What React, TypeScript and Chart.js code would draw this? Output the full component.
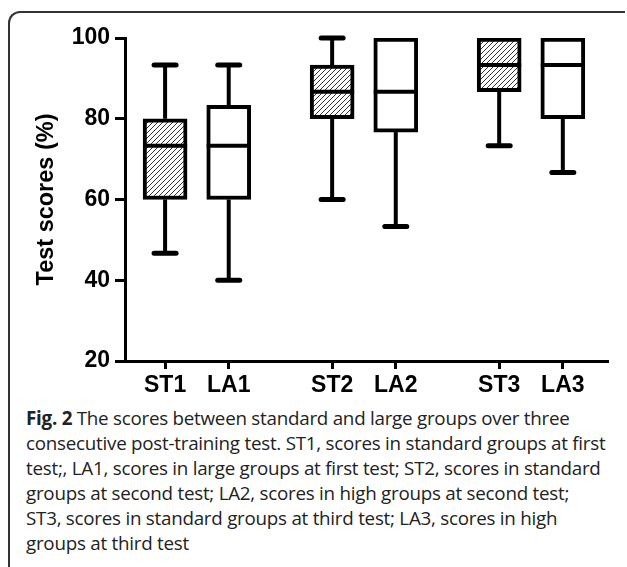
import React, { useEffect, useRef } from 'react';
import { Chart, registerables } from 'chart.js';

Chart.register(...registerables);

// ---- data ----
const categories = ['ST1', 'LA1', 'ST2', 'LA2', 'ST3', 'LA3'];
const whiskerLow = [46.7, 40, 60, 53.3, 73.3, 66.7];
const quartile1 = [60, 60, 80, 76.7, 86.7, 80];
const medians = [73.3, 73.3, 86.7, 86.7, 93.3, 93.3];
const quartile3 = [80, 83.3, 93.3, 100, 100, 100];
const whiskerHigh = [93.3, 93.3, 100, 100, 100, 100];
const yTickValues = [20, 40, 60, 80, 100];
const yTitle = 'Test scores (%)';
const captionBold = 'Fig. 2';
const captionLines = [
  ' The scores between standard and large groups over three',
  'consecutive post-training test. ST1, scores in standard groups at first',
  'test;, LA1, scores in large groups at first test; ST2, scores in standard',
  'groups at second test; LA2, scores in high groups at second test;',
  'ST3, scores in standard groups at third test; LA3, scores in high',
  'groups at third test',
];

// ---- layout constants ----
const GROUP_STEP = 2.625;
const xPos = (i: number) => 1 + Math.floor(i / 2) * GROUP_STEP + (i % 2);
const FONT = "'Liberation Sans', Arial, sans-serif";

function makeHatch(ctx: CanvasRenderingContext2D) {
  const s = 5;
  const c = document.createElement('canvas');
  c.width = s;
  c.height = s;
  const g = c.getContext('2d')!;
  g.fillStyle = '#fff';
  g.fillRect(0, 0, s, s);
  g.strokeStyle = '#333';
  g.lineWidth = 1;
  g.beginPath();
  g.moveTo(0, s);
  g.lineTo(s, 0);
  g.moveTo(-1, 1);
  g.lineTo(1, -1);
  g.moveTo(s - 1, s + 1);
  g.lineTo(s + 1, s - 1);
  g.stroke();
  return ctx.createPattern(c, 'repeat')!;
}

const boxPlotPlugin = {
  id: 'boxPlotParts',
  afterDatasetsDraw(chart: any) {
    const ctx = chart.ctx as CanvasRenderingContext2D;
    const y = chart.scales.y;
    chart.data.datasets.forEach((ds: any, d: number) => {
      const meta = chart.getDatasetMeta(d);
      meta.data.forEach((bar: any, j: number) => {
        const k = ds.data[j].k;
        const { x, width } = bar.getProps(['x', 'width'], true);
        const half = width / 2;
        ctx.save();
        ctx.strokeStyle = '#000';
        ctx.lineWidth = 4;
        ctx.lineCap = 'butt';
        const ym = y.getPixelForValue(medians[k]);
        ctx.beginPath();
        ctx.moveTo(x - half, ym);
        ctx.lineTo(x + half, ym);
        ctx.stroke();
        const yq3 = y.getPixelForValue(quartile3[k]);
        const yq1 = y.getPixelForValue(quartile1[k]);
        const yHi = y.getPixelForValue(whiskerHigh[k]);
        const yLo = y.getPixelForValue(whiskerLow[k]);
        const capHalf = 11;
        if (whiskerHigh[k] > quartile3[k]) {
          ctx.lineWidth = 4;
          ctx.lineCap = 'butt';
          ctx.beginPath();
          ctx.moveTo(x, yq3);
          ctx.lineTo(x, yHi);
          ctx.stroke();
          ctx.lineWidth = 5;
          ctx.lineCap = 'round';
          ctx.beginPath();
          ctx.moveTo(x - capHalf, yHi);
          ctx.lineTo(x + capHalf, yHi);
          ctx.stroke();
        }
        if (whiskerLow[k] < quartile1[k]) {
          ctx.lineWidth = 4;
          ctx.lineCap = 'butt';
          ctx.beginPath();
          ctx.moveTo(x, yq1);
          ctx.lineTo(x, yLo);
          ctx.stroke();
          ctx.lineWidth = 5;
          ctx.lineCap = 'round';
          ctx.beginPath();
          ctx.moveTo(x - capHalf, yLo);
          ctx.lineTo(x + capHalf, yLo);
          ctx.stroke();
        }
        ctx.restore();
      });
    });
  },
};

export default function App() {
  const ref = useRef<HTMLCanvasElement | null>(null);

  useEffect(() => {
    const canvas = ref.current!;
    const ctx = canvas.getContext('2d')!;
    const hatch = makeHatch(ctx);
    const idx = categories.map((_, i) => i);
    const stIdx = idx.filter((i) => i % 2 === 0);
    const laIdx = idx.filter((i) => i % 2 === 1);
    const toPoints = (list: number[]) =>
      list.map((k) => ({ x: xPos(k), y: [quartile1[k], quartile3[k]], k }));

    const chart = new Chart(ctx, {
      type: 'bar',
      data: {
        datasets: [
          {
            label: 'ST',
            data: toPoints(stIdx) as any,
            backgroundColor: hatch as any,
            borderColor: '#000',
            borderWidth: 4,
            borderSkipped: false,
            barThickness: 44,
            grouped: false,
          } as any,
          {
            label: 'LA',
            data: toPoints(laIdx) as any,
            backgroundColor: '#fff',
            borderColor: '#000',
            borderWidth: 4,
            borderSkipped: false,
            barThickness: 44,
            grouped: false,
          } as any,
        ],
      },
      options: {
        animation: false,
        responsive: false,
        events: [],
        layout: { padding: { top: 38, right: 19, left: 0, bottom: 0 } },
        plugins: {
          legend: { display: false },
          tooltip: { enabled: false },
        },
        scales: {
          x: {
            type: 'linear',
            min: 0.37,
            max: 7.96,
            offset: false,
            bounds: 'data',
            afterBuildTicks: (s: any) => {
              s.ticks = categories.map((_, i) => ({ value: xPos(i) }));
            },
            afterFit: (s: any) => {
              s.height = 39;
            },
            ticks: {
              autoSkip: false,
              maxRotation: 0,
              minRotation: 0,
              padding: 3,
              color: '#000',
              font: { family: FONT, size: 23, weight: 'bold' },
              callback: (_v: any, i: number) => categories[i],
            },
            grid: {
              display: true,
              offset: false,
              drawOnChartArea: false,
              drawTicks: true,
              tickLength: 8,
              tickWidth: 3,
              tickColor: '#000',
            },
            border: { display: true, width: 3, color: '#000' },
          } as any,
          y: {
            type: 'linear',
            min: 20,
            max: 100,
            afterBuildTicks: (s: any) => {
              s.ticks = yTickValues.map((v) => ({ value: v }));
            },
            afterFit: (s: any) => {
              s.width = 125;
            },
            ticks: {
              padding: 5,
              color: '#000',
              font: { family: FONT, size: 23, weight: 'bold' },
            },
            grid: {
              display: true,
              drawOnChartArea: false,
              drawTicks: true,
              tickLength: 10,
              tickWidth: 3,
              tickColor: '#000',
            },
            border: { display: true, width: 3, color: '#000' },
            title: {
              display: true,
              text: yTitle,
              color: '#000',
              font: { family: FONT, size: 23.5, weight: 'bold' },
              padding: { top: 32, bottom: 0 },
            },
          } as any,
        },
      },
      plugins: [boxPlotPlugin],
    });
    return () => chart.destroy();
  }, []);

  return (
    <div
      style={{
        position: 'absolute',
        left: 0,
        top: 0,
        width: 627,
        height: 567,
        background: '#fff',
        overflow: 'hidden',
      }}
    >
      <div
        style={{
          position: 'absolute',
          left: 8,
          top: 11,
          width: 615,
          height: 620,
          borderLeft: '2px solid #333',
          borderTop: '2px solid #333',
          borderTopLeftRadius: 12,
        }}
      />
      <canvas
        ref={ref}
        width={627}
        height={400}
        style={{ position: 'absolute', left: 0, top: 0, width: 627, height: 400 }}
      />
      <div
        style={{
          position: 'absolute',
          left: 26,
          top: 406,
          fontFamily: "'Open Sans', sans-serif",
          fontSize: 18.8,
          letterSpacing: '-0.25px',
          lineHeight: '25px',
          color: '#222',
          whiteSpace: 'nowrap',
        }}
      >
        {captionLines.map((line, i) => (
          <div key={i}>
            {i === 0 ? <span style={{ fontWeight: 700 }}>{captionBold}</span> : null}
            {line}
          </div>
        ))}
      </div>
    </div>
  );
}
